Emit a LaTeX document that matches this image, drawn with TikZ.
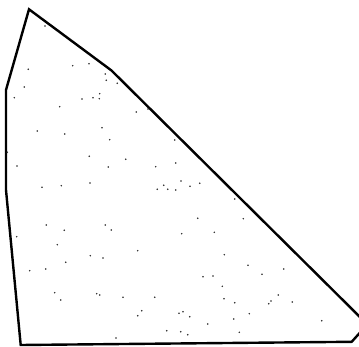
\documentclass[tikz,border=0pt]{standalone}
\usepackage{tikz}

\begin{document}
\begin{tikzpicture}[
  x=1pt, y=-1pt,
  hull/.style = {line width=2.4pt, black, line join=miter},
  pt/.style   = {fill=black!85},
]

%%═══════════════════════════════════════════════════════════
%% Frame
%%═══════════════════════════════════════════════════════════

\useasboundingbox (0,0) rectangle (359,347);
\clip (0,0) rectangle (359,347);

%%═══════════════════════════════════════════════════════════
%% Convex hull
%%═══════════════════════════════════════════════════════════

\coordinate (top)    at (29,9.3);
\coordinate (bend)   at (111.5,70.5);
\coordinate (right)  at (367.4,324.4);
\coordinate (botr)   at (351.7,341.8);
\coordinate (botl)   at (20.7,345);
\coordinate (lowl)   at (6,190);
\coordinate (left)   at (6,90);

\draw[hull] (top) -- (bend) -- (right) -- (botr) -- (botl)
  -- (lowl) -- (left) -- cycle;

%%═══════════════════════════════════════════════════════════
%% Sample points
%%═══════════════════════════════════════════════════════════

\foreach \px/\py in {
  45/26, 28.3/69.3, 72.7/65.7, 89/63.7, 105.3/74, 106.3/80.3,
  117.3/83.3, 24.3/87, 14.3/97.7, 82/99, 93/97.7, 99.7/93.7,
  99.3/98.7, 59.7/106.7, 136.3/112, 148/109, 37.3/131, 64.7/134,
  102/127.7, 109.7/139.7, 174.7/140, 7.3/152.3, 89.3/156.3,
  125.7/159.3, 17/166, 108.3/167, 155.7/166.7, 175.7/163,
  42/187.3, 61.3/185.7, 90/183, 157.3/189.3, 163.7/185.3,
  167.7/189.3, 175.7/190, 46.3/225, 64.3/230.3, 105.3/225,
  111.3/230, 16.7/236.7, 57.3/244.7, 137.7/250.7, 90.3/255.7,
  103/258, 65.7/262.3, 29.7/270.7, 45.7/269, 54.7/292.7,
  60.7/300, 96.7/293.7, 99.7/295, 123/297.3, 154.7/297.3,
  141.7/310.7, 137.7/315.7, 179/313.3, 166.7/330.7, 116/338,
  181/181, 190/186.3, 199.7/183.3, 234.7/199, 197.7/218.3,
  243.3/218.7, 181.7/233.7, 214.3/232.3, 224.3/254.7, 248/265.3,
  283.7/269, 262/274.3, 203/276.7, 213/276, 222.3/286.3,
  278.3/295, 224/298.7, 234.7/302.7, 271/301, 268.7/303.7,
  292.3/302, 183/311.7, 189.7/316.7, 249.3/313.7, 233.7/319,
  321.7/320.7, 207.7/324, 180.7/331.7, 187.7/334.7, 239.3/332.3}
  \fill[pt] (\px,\py) circle (0.85pt);

\end{tikzpicture}
\end{document}
